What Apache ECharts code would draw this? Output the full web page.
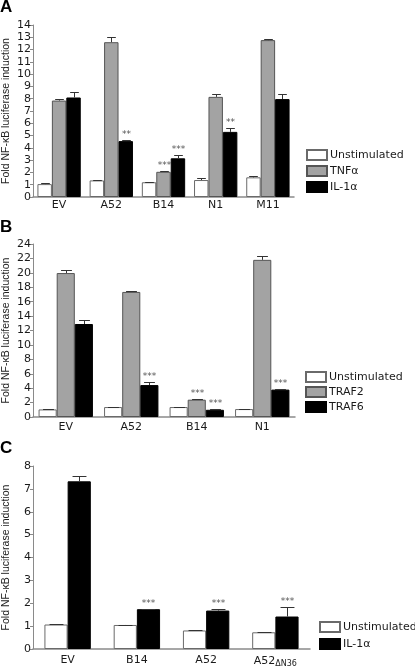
<!DOCTYPE html>
<html><head><meta charset="utf-8">
<script src="https://cdn.jsdelivr.net/npm/echarts@6/dist/echarts.min.js"></script>
<style>html,body{margin:0;padding:0;background:#fff}#c{width:415px;height:668px}</style>
</head><body><div id="c"></div>
<script>
// Panel A
const catsA = ['EV','A52','B14','N1','M11'];
const namesA = ['Unstimulated','TNFα','IL-1α'];
const unstimA = [1.05, 1.35, 1.2, 1.38, 1.6];
const unstimErrA = [0.05, 0.05, 0.05, 0.14, 0.1];
const tnfA = [7.85, 12.6, 2.05, 8.15, 12.77];
const tnfErrA = [0.12, 0.45, 0.07, 0.22, 0.12];
const il1A = [8.1, 4.55, 3.15, 5.3, 7.97];
const il1ErrA = [0.45, 0.1, 0.3, 0.32, 0.45];
const starsUnstimA = ['', '', '', '', ''];
const starsTnfA = ['', '', '***', '', ''];
const starsIl1A = ['', '**', '***', '**', ''];
const ticksA = {min: 0, max: 14, interval: 1};

// Panel B
const catsB = ['EV','A52','B14','N1'];
const namesB = ['Unstimulated','TRAF2','TRAF6'];
const unstimB = [1.05, 1.38, 1.38, 1.1];
const unstimErrB = [0.05, 0.07, 0.05, 0.05];
const traf2B = [19.97, 17.35, 2.4, 21.8];
const traf2ErrB = [0.45, 0.08, 0.1, 0.55];
const traf6B = [12.9, 4.43, 1.0, 3.8];
const traf6ErrB = [0.6, 0.45, 0.05, 0.1];
const starsUnstimB = ['', '', '', ''];
const starsTraf2B = ['', '', '***', ''];
const starsTraf6B = ['', '***', '***', '***'];
const ticksB = {min: 0, max: 24, interval: 2};

// Panel C
const catsC = ['EV','B14','A52','A52ΔN36'];
const namesC = ['Unstimulated','IL-1α'];
const unstimC = [1.07, 1.05, 0.81, 0.73];
const unstimErrC = [0.03, 0.02, 0.03, 0.03];
const il1C = [7.33, 1.74, 1.68, 1.42];
const il1ErrC = [0.25, 0.03, 0.07, 0.42];
const starsUnstimC = ['', '', '', ''];
const starsIl1C = ['', '***', '***', '***'];
const ticksC = {min: 0, max: 8, interval: 1};

const FONT = 'DejaVu Sans';
const styles = {
  white: {color: '#ffffff', borderColor: '#6a6a6a', borderWidth: 1},
  gray: {color: '#a3a3a3', borderColor: '#555555', borderWidth: 1},
  black: {color: '#000000', borderColor: '#000000', borderWidth: 1}
};

const grids = [
  {left: 33, top: 25, width: 261, height: 172, containLabel: false, outerBoundsMode: 'none'},
  {left: 33, top: 244, width: 262, height: 173, containLabel: false, outerBoundsMode: 'none'},
  {left: 33, top: 466, width: 277, height: 183, containLabel: false, outerBoundsMode: 'none'}
];

function xAxisFor(i, cats, margin) {
  return {
    type: 'category', gridIndex: i, data: cats,
    axisLine: {lineStyle: {color: '#8a8a8a', width: 1.5}},
    axisTick: {show: false},
    axisLabel: {
      interval: 0, hideOverlap: false,
      fontFamily: FONT, fontSize: 11, color: '#1a1a1a', margin: margin,
      formatter: function (v) {
        if (v.indexOf('Δ') > 0) {
          const k = v.indexOf('Δ');
          return v.slice(0, k) + '{sub|' + v.slice(k) + '}';
        }
        return v;
      },
      rich: {sub: {fontFamily: FONT, fontSize: 8, color: '#1a1a1a', padding: [5, 0, 0, 0]}}
    }
  };
}
function yAxisFor(i, t) {
  return {
    type: 'value', gridIndex: i, min: t.min, max: t.max, interval: t.interval,
    name: 'Fold NF-\u03baB luciferase induction', nameLocation: 'middle', nameGap: 21,
    nameMoveOverlap: false,
    nameTextStyle: {fontFamily: 'Liberation Sans', fontSize: 10.5, color: '#222'},
    axisLine: {show: true, lineStyle: {color: '#8a8a8a', width: 1}},
    axisTick: {show: true, length: 3, lineStyle: {color: '#8a8a8a'}},
    splitLine: {show: false},
    axisLabel: {fontFamily: FONT, fontSize: 11, color: '#1a1a1a', margin: 2}
  };
}

const series = [];
function addPanel(gi, gap, names, vals, errs, stars, sty) {
  const n = vals.length;
  for (let s = 0; s < n; s++) {
    series.push({
      type: 'bar', name: names[s], xAxisIndex: gi, yAxisIndex: gi,
      data: vals[s], itemStyle: styles[sty[s]],
      barGap: '0%', barCategoryGap: (gap * 100) + '%', z: 2,
      animation: false
    });
  }
  for (let s = 0; s < n; s++) {
    const st = stars[s];
    series.push({
      type: 'custom', name: 'err' + gi + '_' + s, xAxisIndex: gi, yAxisIndex: gi, z: 5,
      animation: false, silent: true,
      data: vals[s].map((v, k) => [k, v, errs[s][k]]),
      renderItem: function (params, api) {
        const x = api.value(0), v = api.value(1), e = api.value(2);
        const base = api.coord([x, v]);
        const top = api.coord([x, v + e]);
        const band = api.size([1, 0])[0];
        const bw = band * (1 - gap) / n;
        const cx = Math.round(base[0] - band * (1 - gap) / 2 + bw * (s + 0.5)) + 0.5;
        const half = bw * 0.3;
        const ty = Math.round(top[1]) + 0.5;
        const children = [
          {type: 'line', shape: {x1: cx, y1: base[1], x2: cx, y2: ty}, style: {stroke: '#333', lineWidth: 1}},
          {type: 'line', shape: {x1: cx - half, y1: ty, x2: cx + half, y2: ty}, style: {stroke: '#333', lineWidth: 1}}
        ];
        const label = st[params.dataIndex];
        if (label) {
          children.push({type: 'text', style: {x: cx, y: ty - 1, text: label, fill: '#555', font: '9px ' + FONT, align: 'center', verticalAlign: 'bottom'}});
        }
        return {type: 'group', children: children};
      }
    });
  }
}
addPanel(0, 0.17, namesA, [unstimA, tnfA, il1A], [unstimErrA, tnfErrA, il1ErrA], [starsUnstimA, starsTnfA, starsIl1A], ['white', 'gray', 'black']);
addPanel(1, 0.17, namesB, [unstimB, traf2B, traf6B], [unstimErrB, traf2ErrB, traf6ErrB], [starsUnstimB, starsTraf2B, starsTraf6B], ['white', 'gray', 'black']);
addPanel(2, 0.33, namesC, [unstimC, il1C], [unstimErrC, il1ErrC], [starsUnstimC, starsIl1C], ['white', 'black']);

function legendFor(names, left, top, gapY) {
  return {
    data: names.map(n => ({name: n, icon: 'rect'})), orient: 'vertical', left: left, top: top,
    itemWidth: 20, itemHeight: 10, itemGap: gapY, padding: 0,
    textStyle: {fontFamily: FONT, fontSize: 11, color: '#1a1a1a', padding: [0, 0, 0, -2]},
    selectedMode: false
  };
}

const option = {
  animation: false,
  backgroundColor: '#fff',
  title: [
    {text: 'A', left: 0, top: -1, padding: 0, textStyle: {fontFamily: 'Liberation Sans', fontSize: 17, fontWeight: 'bold', color: '#000'}},
    {text: 'B', left: 0, top: 219, padding: 0, textStyle: {fontFamily: 'Liberation Sans', fontSize: 17, fontWeight: 'bold', color: '#000'}},
    {text: 'C', left: 0, top: 440, padding: 0, textStyle: {fontFamily: 'Liberation Sans', fontSize: 17, fontWeight: 'bold', color: '#000'}}
  ],
  grid: grids,
  xAxis: [xAxisFor(0, catsA, 3), xAxisFor(1, catsB, 5), xAxisFor(2, catsC, 6)],
  yAxis: [yAxisFor(0, ticksA), yAxisFor(1, ticksB), yAxisFor(2, ticksC)],
  legend: [
    legendFor(namesA, 306, 149, 4),
    legendFor(namesB, 305, 371, 3),
    legendFor(namesC, 319, 621, 5)
  ],
  series: series
};
const chart = echarts.init(document.getElementById('c'), null, {renderer: 'canvas'});
chart.setOption(option);
</script>
</body></html>
